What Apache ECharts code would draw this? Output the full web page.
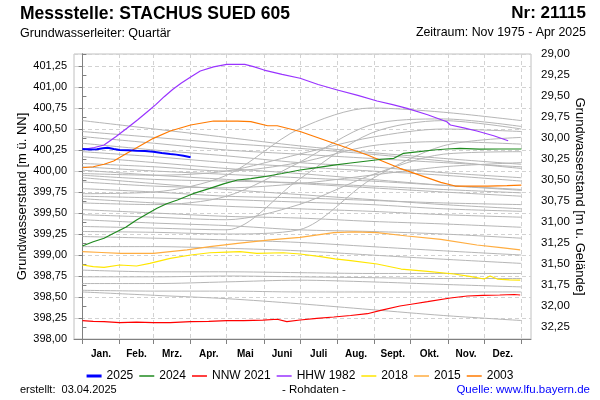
<!DOCTYPE html>
<html><head><meta charset="utf-8">
<script src="https://cdn.jsdelivr.net/npm/echarts@6/dist/echarts.min.js"></script>
<style>html,body{margin:0;padding:0;background:#fff}#c{width:600px;height:400px}</style>
</head><body><div id="c"></div>
<script>
// ---------- data ----------
const monthNames = ['Jan.','Feb.','Mrz.','Apr.','Mai','Juni','Juli','Aug.','Sept.','Okt.','Nov.','Dez.'];
const monthStarts = [0,31,59,90,120,151,181,212,243,273,304,334,365];
const monthMids = [15.5,45,74.5,105,135.5,166,196.5,227.5,258,288.5,319,349.5];

// [day of year, level m ü. NN]
const s2025 = [[0,400.262],[6,400.255],[12,400.258],[17,400.27],[21,400.277],[26,400.262],[31,400.25],[38,400.248],[45,400.242],[52,400.238],[59,400.23],[66,400.215],[73,400.202],[78,400.195],[84,400.182],[90,400.163]];
const s2024 = [[0,399.107],[9,399.158],[18,399.2],[26,399.258],[36,399.33],[45,399.417],[54,399.49],[62,399.556],[70,399.61],[79,399.655],[92,399.73],[106,399.794],[118,399.85],[129,399.893],[140,399.91],[151,399.932],[166,399.97],[181,400.012],[195,400.04],[209,400.071],[223,400.095],[237,400.119],[249,400.14],[259,400.151],[267,400.211],[280,400.23],[292,400.25],[303,400.262],[314,400.27],[330,400.26],[347,400.262],[365,400.262]];
const sNNW2021 = [[0,398.218],[9,398.21],[18,398.206],[31,398.194],[45,398.2],[59,398.194],[73,398.194],[90,398.206],[105,398.21],[120,398.218],[134,398.218],[150,398.225],[162,398.235],[170,398.206],[181,398.226],[195,398.245],[209,398.262],[223,398.28],[237,398.301],[248,398.341],[264,398.393],[276,398.42],[287,398.444],[306,398.488],[320,398.512],[333,398.52],[347,398.524],[359,398.53],[364,398.524]];
const sHHW1982 = [[1,400.258],[10,400.28],[18,400.31],[28,400.41],[37,400.508],[46,400.61],[54,400.706],[61,400.79],[68,400.885],[75,400.97],[82,401.044],[90,401.12],[98,401.19],[109,401.24],[120,401.27],[135,401.27],[143,401.24],[151,401.202],[166,401.15],[181,401.104],[196,401.03],[212,400.964],[229,400.9],[245,400.833],[258,400.79],[270,400.746],[287,400.67],[303,400.587],[306,400.548],[318,400.51],[328,400.476],[342,400.42],[354,400.36]];
const s2018 = [[0,398.881],[9,398.861],[18,398.853],[31,398.881],[45,398.869],[56,398.901],[73,398.96],[90,399.0],[106,399.027],[120,399.035],[131,399.04],[145,399.02],[167,399.027],[181,399.012],[198,398.98],[210,398.955],[223,398.933],[245,398.893],[265,398.833],[287,398.805],[309,398.774],[322,398.745],[334,398.714],[339,398.75],[345,398.714],[355,398.705],[364,398.702]];
const s2015 = [[0,399.04],[16,399.03],[32,399.02],[59,399.02],[87,399.06],[106,399.099],[129,399.139],[156,399.179],[181,399.21],[209,399.266],[226,399.275],[245,399.266],[270,399.226],[298,399.187],[328,399.119],[348,399.087],[364,399.06]];
const s2003 = [[0,400.039],[9,400.051],[18,400.08],[26,400.119],[37,400.211],[48,400.3],[59,400.389],[73,400.476],[90,400.548],[109,400.595],[129,400.595],[140,400.587],[154,400.539],[162,400.539],[181,400.47],[209,400.33],[237,400.19],[264,400.032],[298,399.865],[310,399.821],[337,399.821],[353,399.825],[365,399.833]];

// historical years (grey) – levels at grayDays
const grayDays = [0,60,120,180,240,300,365];
const grayYears = [
  [400.60,400.50,400.40,400.30,400.22,400.15,400.08],
  [400.47,400.40,400.33,400.27,400.20,400.12,400.03],
  [400.41,400.33,400.25,400.20,400.15,400.10,400.05],
  [400.33,400.25,400.18,400.10,400.05,399.98,399.92],
  [400.23,400.17,400.10,400.05,400.00,399.95,399.88],
  [400.17,400.10,400.03,399.97,399.90,399.83,399.77],
  [400.09,400.05,400.00,400.10,400.30,400.35,400.32],
  [400.01,399.95,399.90,399.85,399.80,399.75,399.70],
  [399.97,399.95,400.00,400.20,400.40,400.50,400.47],
  [399.92,399.85,399.78,399.72,399.66,399.60,399.55],
  [399.87,399.82,399.80,399.85,399.95,400.05,400.10],
  [399.79,399.75,399.70,399.68,399.65,399.62,399.60],
  [399.73,399.75,399.95,400.50,400.75,400.70,400.60],
  [399.67,399.62,399.58,399.55,399.52,399.48,399.45],
  [399.62,399.60,399.70,400.10,400.55,400.62,400.53],
  [399.54,399.50,399.46,399.44,399.40,399.37,399.33],
  [399.48,399.45,399.42,399.60,399.95,400.20,400.23],
  [399.42,399.38,399.35,399.30,399.28,399.25,399.20],
  [399.34,399.32,399.30,399.90,400.45,400.60,400.50],
  [399.28,399.27,399.25,399.30,399.90,400.30,400.40],
  [399.22,399.20,399.18,399.15,399.10,399.05,399.00],
  [399.10,399.10,399.08,399.05,399.00,398.95,398.90],
  [398.82,398.80,398.80,398.79,398.78,398.78,398.78],
  [398.74,398.74,398.75,398.74,398.73,398.72,398.72],
  [398.66,398.66,398.68,398.70,398.68,398.65,398.62],
  [398.58,398.57,398.57,398.56,398.56,398.56,398.56],
  [398.56,398.52,398.48,398.42,398.35,398.28,398.22],
  [399.70,399.68,399.66,399.63,399.60,399.55,399.52],
  [400.05,400.00,399.96,399.92,399.88,399.83,399.78],
  [399.95,399.90,399.88,399.86,399.82,399.78,399.74]
];

// ---------- chart ----------
const FONT = 'Liberation Sans';
const fmt = v => v.toFixed(2).replace('.', ',');
const grid = '#d2d2d2';
const axisCol = '#808080';

const series = [];
grayYears.forEach((yr, i) => {
  series.push({
    type: 'line', name: 'hist' + i, silent: true, symbol: 'none', smooth: 0.3,
    data: grayDays.map((d, k) => [d, yr[k]]),
    lineStyle: { color: '#b6b6b6', width: 1 }, z: 1
  });
});
const named = [
  ['2003', s2003, '#ff7a00', 1.2],
  ['2015', s2015, '#ffad40', 1.2],
  ['2018', s2018, '#ffe600', 1.2],
  ['HHW 1982', sHHW1982, '#9933ff', 1.2],
  ['NNW 2021', sNNW2021, '#ff0000', 1.2],
  ['2024', s2024, '#1f8a1f', 1.2],
  ['2025', s2025, '#0000ff', 2]
];
named.forEach(([n, d, c, w]) => {
  series.push({ type: 'line', name: n, data: d, symbol: 'none', color: c,
    lineStyle: { color: c, width: w }, z: 3 });
});

const thin = 'path://M0 0H15V1.5H0Z';
const thick = 'path://M0 0H15V3H0Z';
const legendNames = ['2025','2024','NNW 2021','HHW 1982','2018','2015','2003'];

const option = {
  animation: false,
  backgroundColor: '#fff',
  textStyle: { fontFamily: FONT },
  title: [
    { text: 'Messstelle: STACHUS SUED 605', left: 20, top: 5, padding: 0, textStyle: { fontFamily: FONT, fontSize: 17.5, fontWeight: 'bold', color: '#000' } },
    { text: 'Nr: 21115', right: 14, top: 5, padding: 0, textStyle: { fontFamily: FONT, fontSize: 17, fontWeight: 'bold', color: '#000' } },
    { text: 'Grundwasserleiter: Quartär', left: 20, top: 27, padding: 0, textStyle: { fontFamily: FONT, fontSize: 12.5, fontWeight: 'normal', color: '#000' } },
    { text: 'Zeitraum: Nov 1975 - Apr 2025', right: 14, top: 27, padding: 0, textStyle: { fontFamily: FONT, fontSize: 12.4, fontWeight: 'normal', color: '#000' } },
    { text: 'erstellt:  03.04.2025', left: 20, top: 384, padding: 0, textStyle: { fontFamily: FONT, fontSize: 11, fontWeight: 'normal', color: '#000' } },
    { text: '- Rohdaten -', left: 282, top: 384, padding: 0, textStyle: { fontFamily: FONT, fontSize: 11.5, fontWeight: 'normal', color: '#000' } },
    { text: 'Quelle: www.lfu.bayern.de', right: 10, top: 384, padding: 0, textStyle: { fontFamily: FONT, fontSize: 11.5, fontWeight: 'normal', color: '#0000ff' } }
  ],
  legend: {
    data: legendNames.map(n => ({ name: n, icon: n === '2025' ? thick : thin })),
    left: 'center', top: 370, itemWidth: 15, itemHeight: 10, itemGap: 6, padding: 0,
    textStyle: { fontFamily: FONT, fontSize: 12, color: '#000' }
  },
  grid: { left: 74, right: 69, top: 54, bottom: 61, show: true, borderColor: '#c0c0c0', borderWidth: 1, containLabel: false },
  xAxis: [
    { type: 'value', min: -7, max: 373,
      axisLine: { show: true, lineStyle: { color: axisCol } },
      axisTick: { show: true, customValues: monthStarts, length: 5, lineStyle: { color: axisCol } },
      axisLabel: { show: false },
      splitLine: { show: true, lineStyle: { type: [4, 3], color: grid } } },
    { type: 'value', min: -7, max: 373, position: 'bottom',
      axisLine: { show: false }, axisTick: { show: false }, splitLine: { show: false },
      axisLabel: { customValues: monthMids, formatter: v => monthNames[monthMids.indexOf(v)] || '',
        fontFamily: FONT, fontSize: 10, fontWeight: 'bold', color: '#000', margin: 10 } }
  ],
  yAxis: [
    { type: 'value', min: 398, max: 401.393, interval: 0.25, position: 'left',
      axisLine: { show: true, lineStyle: { color: axisCol } },
      axisTick: { show: true, length: 4, lineStyle: { color: axisCol } },
      axisLabel: { formatter: fmt, fontFamily: FONT, fontSize: 11, color: '#000', margin: 7, showMaxLabel: false },
      splitLine: { show: true, lineStyle: { type: [4, 3], color: grid } },
      name: 'Grundwasserstand [m ü. NN]', nameLocation: 'middle', nameGap: 45, nameMoveOverlap: false,
      nameTextStyle: { fontFamily: FONT, fontSize: 13, color: '#000' } },
    { type: 'value', min: 29, max: 32.393, interval: 0.25, inverse: true, position: 'right',
      axisLine: { show: true, lineStyle: { color: axisCol } },
      axisTick: { show: true, length: 4, lineStyle: { color: axisCol } },
      axisLabel: { formatter: fmt, fontFamily: FONT, fontSize: 11.5, color: '#000', margin: 10, showMaxLabel: false },
      splitLine: { show: false },
      name: 'Grundwasserstand [m u. Gelände]', nameLocation: 'middle', nameGap: 42, nameRotate: -90, nameMoveOverlap: false,
      nameTextStyle: { fontFamily: FONT, fontSize: 13, color: '#000' } }
  ],
  series: series
};
const chart = echarts.init(document.getElementById('c'), null, { renderer: 'canvas' });
chart.setOption(option);
</script>
</body></html>
